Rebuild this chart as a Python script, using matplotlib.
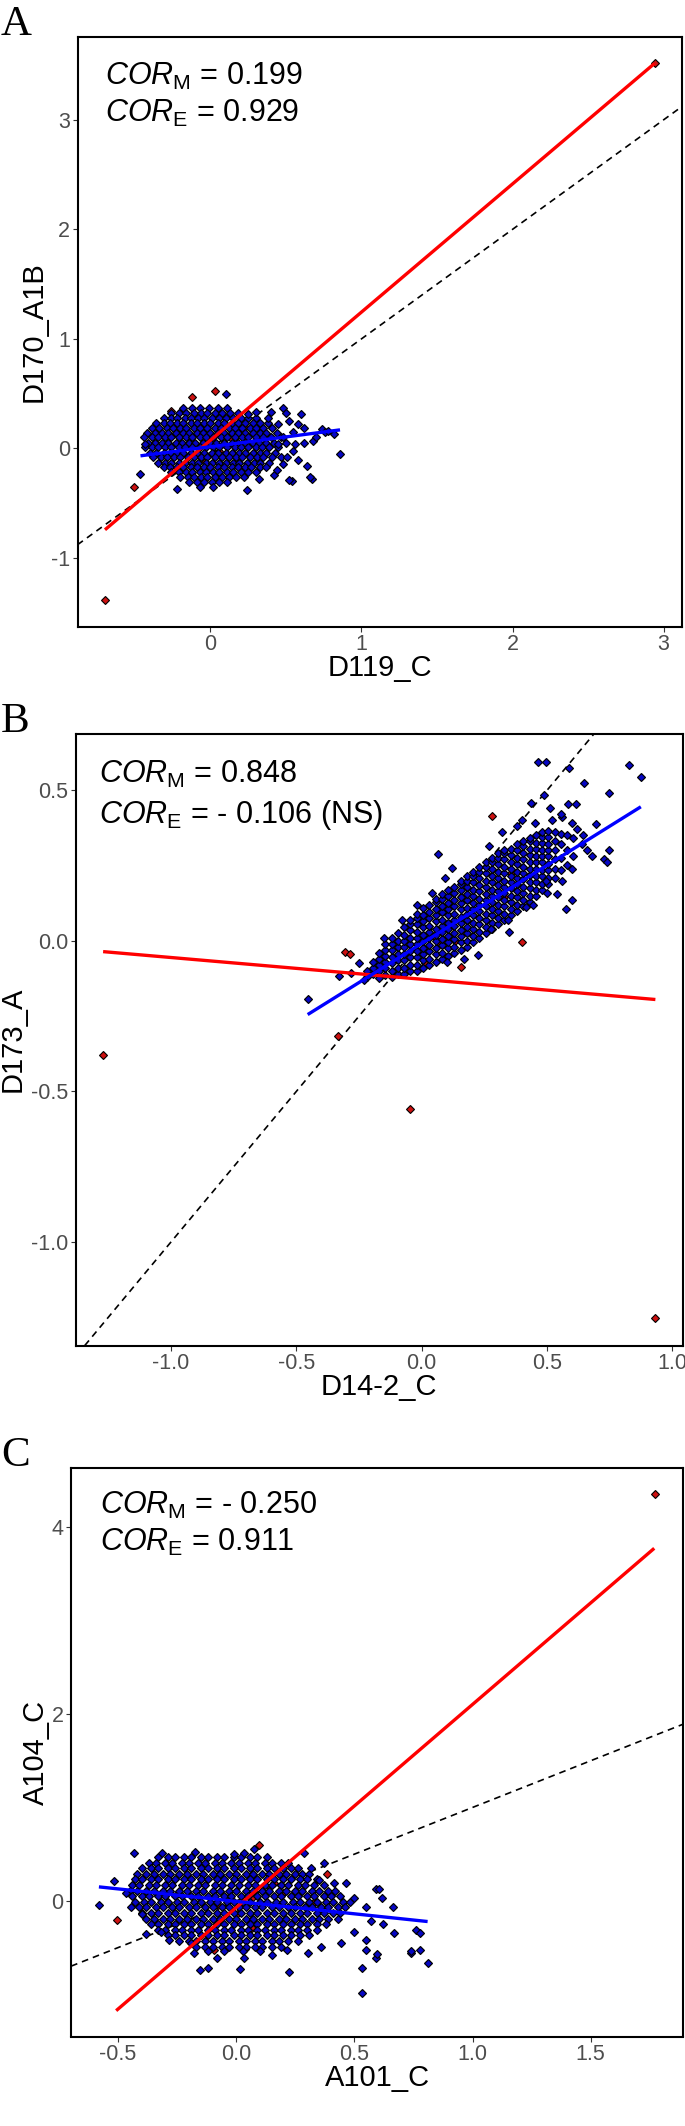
import matplotlib
matplotlib.use('Agg')
import matplotlib.pyplot as plt

plt.rcParams['font.family'] = ['Liberation Sans', 'DejaVu Sans']
plt.rcParams['mathtext.fontset'] = 'custom'
plt.rcParams['mathtext.rm'] = 'Liberation Sans'
plt.rcParams['mathtext.it'] = 'Liberation Sans:italic'
plt.rcParams['mathtext.bf'] = 'Liberation Sans:bold'

# ---------------- Panel A ----------------
A_letter = 'A'
A_xlabel = 'D119_C'
A_ylabel = 'D170_A1B'
A_xticks = [0, 1, 2, 3]
A_xticklabels = ['0', '1', '2', '3']
A_yticks = [-1, 0, 1, 2, 3]
A_yticklabels = ['-1', '0', '1', '2', '3']
A_text = [r'$\mathit{COR}_{\mathrm{M}}$ = 0.199', r'$\mathit{COR}_{\mathrm{E}}$ = 0.929']
A_red = [(2.94, 3.515), (-0.698, -1.386), (0.028, 0.527), (-0.119, 0.472), (-0.258, 0.344),
         (-0.503, -0.354), (0.05, -0.23), (-0.09, 0.283), (0.229, 0.191), (0.173, 0.115),
         (0.144, 0.085), (0.021, -0.038), (0.055, -0.028), (-0.034, -0.12)]
A_blue_rows = [
    (0.37, [-0.18, -0.12, -0.07, -0.01, 0.05, 0.11]),
    (0.32, [-0.26, -0.21, -0.16, -0.11, -0.06, -0.02, 0.03, 0.08, 0.13, 0.18]),
    (0.28, [-0.31, -0.26, -0.22, -0.17, -0.13, -0.08, -0.04, 0.01, 0.06, 0.10, 0.15, 0.20, 0.25, 0.30]),
    (0.23, [-0.36, -0.31, -0.27, -0.22, -0.18, -0.13, -0.09, -0.04, 0.00, 0.05, 0.09, 0.14, 0.18, 0.23, 0.28, 0.33, 0.38]),
    (0.19, [-0.39, -0.34, -0.29, -0.25, -0.20, -0.16, -0.11, -0.07, -0.02, 0.03, 0.07, 0.12, 0.16, 0.21, 0.26, 0.30, 0.35, 0.41]),
    (0.14, [-0.42, -0.37, -0.32, -0.28, -0.23, -0.18, -0.14, -0.09, -0.05, 0.00, 0.05, 0.09, 0.14, 0.18, 0.23, 0.28, 0.33, 0.37, 0.44]),
    (0.10, [-0.44, -0.39, -0.35, -0.30, -0.26, -0.21, -0.16, -0.12, -0.07, -0.03, 0.02, 0.07, 0.11, 0.16, 0.21, 0.25, 0.30, 0.35, 0.40, 0.47]),
    (0.05, [-0.41, -0.37, -0.32, -0.28, -0.23, -0.19, -0.14, -0.10, -0.05, 0.00, 0.04, 0.09, 0.14, 0.18, 0.23, 0.28, 0.32, 0.37, 0.42, 0.50]),
    (0.01, [-0.43, -0.39, -0.35, -0.30, -0.26, -0.21, -0.17, -0.12, -0.07, -0.03, 0.02, 0.06, 0.11, 0.16, 0.20, 0.25, 0.30, 0.34, 0.39, 0.45]),
    (-0.04, [-0.40, -0.36, -0.31, -0.27, -0.22, -0.18, -0.13, -0.09, -0.04, 0.01, 0.05, 0.10, 0.14, 0.19, 0.23, 0.28, 0.33, 0.37, 0.43]),
    (-0.08, [-0.38, -0.33, -0.29, -0.24, -0.20, -0.15, -0.11, -0.06, -0.02, 0.03, 0.08, 0.12, 0.17, 0.21, 0.26, 0.31, 0.35, 0.41, 0.47]),
    (-0.13, [-0.35, -0.30, -0.26, -0.21, -0.17, -0.12, -0.08, -0.03, 0.01, 0.06, 0.10, 0.15, 0.19, 0.24, 0.29, 0.33, 0.39]),
    (-0.17, [-0.31, -0.27, -0.22, -0.18, -0.13, -0.09, -0.04, 0.00, 0.05, 0.09, 0.14, 0.18, 0.23, 0.27, 0.33, 0.37]),
    (-0.22, [-0.26, -0.21, -0.16, -0.12, -0.07, -0.03, 0.02, 0.06, 0.11, 0.15, 0.20, 0.25, 0.30]),
    (-0.26, [-0.20, -0.15, -0.11, -0.06, -0.02, 0.03, 0.08, 0.12, 0.17, 0.22]),
    (-0.31, [-0.14, -0.09, -0.04, 0.01, 0.06, 0.11]),
    (-0.35, [-0.07, 0.02]),
]
A_blue_extra = [(0.10, 0.50), (-0.463, -0.23), (0.858, -0.05), (0.74, 0.18), (0.82, 0.13),
                (0.48, 0.37), (0.50, 0.32), (0.60, 0.31), (0.42, -0.24), (0.32, -0.28),
                (0.54, -0.30), (0.67, -0.28), (-0.22, -0.37), (0.24, -0.38), (0.62, 0.05),
                (0.68, 0.07), (0.56, 0.04), (0.51, -0.08), (0.58, -0.11), (0.48, -0.14),
                (0.64, -0.16), (0.48, 0.10), (0.55, 0.15), (0.62, 0.19), (0.52, 0.25),
                (-0.43, 0.04), (0.66, -0.26), (0.52, -0.29), (0.76, 0.15), (0.70, 0.10),
                (0.45, 0.22), (0.44, -0.20), (0.30, 0.33), (0.25, 0.31), (0.38, 0.28),
                (0.55, -0.02), (0.45, 0.04), (0.78, 0.16), (0.40, 0.33), (0.58, 0.22)]
A_red_fit_x = [-0.698, 2.94]
A_red_fit_y = [-0.743, 3.515]
A_blue_fit_x = [-0.463, 0.858]
A_blue_fit_y = [-0.068, 0.169]

# ---------------- Panel B ----------------
B_letter = 'B'
B_xlabel = 'D14-2_C'
B_ylabel = 'D173_A'
B_xticks = [-1.0, -0.5, 0.0, 0.5, 1.0]
B_xticklabels = ['-1.0', '-0.5', '0.0', '0.5', '1.0']
B_yticks = [-1.0, -0.5, 0.0, 0.5]
B_yticklabels = ['-1.0', '-0.5', '0.0', '0.5']
B_text = [r'$\mathit{COR}_{\mathrm{M}}$ = 0.848', r'$\mathit{COR}_{\mathrm{E}}$ = - 0.106 (NS)']
B_red = [(-1.271, -0.38), (-0.045, -0.56), (0.932, -1.252), (-0.334, -0.317), (0.28, 0.415),
         (-0.306, -0.036), (-0.288, -0.044), (0.399, -0.004), (0.157, -0.087), (0.049, 0.017),
         (0.066, -0.004), (0.131, -0.001), (0.014, -0.073), (0.329, 0.146), (0.355, 0.226)]
B_blue_cols = [
    (-0.22, [-0.12, -0.10]),
    (-0.195, [-0.11, -0.09, -0.07]),
    (-0.17, [-0.125, -0.10, -0.08, -0.06, -0.04]),
    (-0.145, [-0.115, -0.09, -0.07, -0.05, -0.03, -0.01]),
    (-0.12, [-0.12, -0.10, -0.075, -0.055, -0.03, -0.01, 0.01]),
    (-0.095, [-0.11, -0.09, -0.065, -0.045, -0.02, 0.00, 0.025]),
    (-0.07, [-0.11, -0.09, -0.065, -0.045, -0.02, 0.00, 0.02, 0.045]),
    (-0.045, [-0.10, -0.08, -0.055, -0.035, -0.01, 0.01, 0.035, 0.055, 0.07]),
    (-0.02, [-0.10, -0.08, -0.055, -0.035, -0.01, 0.01, 0.03, 0.055, 0.075, 0.09]),
    (0.005, [-0.09, -0.065, -0.045, -0.025, 0.00, 0.02, 0.045, 0.065, 0.085, 0.11]),
    (0.03, [-0.08, -0.06, -0.035, -0.015, 0.01, 0.03, 0.05, 0.075, 0.095, 0.12]),
    (0.055, [-0.07, -0.045, -0.025, 0.00, 0.02, 0.04, 0.065, 0.085, 0.105, 0.13, 0.14]),
    (0.08, [-0.06, -0.04, -0.015, 0.005, 0.03, 0.05, 0.07, 0.095, 0.115, 0.14, 0.155]),
    (0.105, [-0.05, -0.025, -0.005, 0.015, 0.04, 0.06, 0.085, 0.105, 0.125, 0.15, 0.17]),
    (0.13, [-0.04, -0.02, 0.005, 0.025, 0.05, 0.07, 0.09, 0.115, 0.135, 0.16, 0.18]),
    (0.155, [-0.03, -0.005, 0.015, 0.035, 0.06, 0.08, 0.105, 0.125, 0.145, 0.17, 0.19, 0.20]),
    (0.18, [-0.02, 0.00, 0.025, 0.045, 0.07, 0.09, 0.11, 0.135, 0.155, 0.18, 0.20, 0.215]),
    (0.205, [-0.005, 0.015, 0.04, 0.06, 0.085, 0.105, 0.125, 0.15, 0.17, 0.195, 0.215, 0.23]),
    (0.23, [0.01, 0.03, 0.055, 0.075, 0.10, 0.12, 0.14, 0.165, 0.185, 0.21, 0.23, 0.245]),
    (0.255, [0.025, 0.045, 0.07, 0.09, 0.115, 0.135, 0.155, 0.18, 0.20, 0.225, 0.245, 0.26]),
    (0.28, [0.04, 0.06, 0.085, 0.105, 0.13, 0.15, 0.17, 0.195, 0.215, 0.24, 0.26, 0.275]),
    (0.305, [0.055, 0.075, 0.10, 0.12, 0.145, 0.165, 0.185, 0.21, 0.23, 0.255, 0.275, 0.29]),
    (0.33, [0.07, 0.09, 0.115, 0.135, 0.16, 0.18, 0.20, 0.225, 0.245, 0.27, 0.29, 0.30]),
    (0.355, [0.085, 0.105, 0.13, 0.15, 0.175, 0.195, 0.215, 0.24, 0.26, 0.285, 0.305]),
    (0.38, [0.10, 0.12, 0.145, 0.165, 0.19, 0.21, 0.23, 0.255, 0.275, 0.30, 0.32]),
    (0.405, [0.115, 0.135, 0.16, 0.18, 0.205, 0.225, 0.245, 0.27, 0.29, 0.315, 0.33]),
    (0.43, [0.13, 0.15, 0.175, 0.195, 0.22, 0.24, 0.26, 0.285, 0.305, 0.33, 0.34]),
    (0.455, [0.15, 0.17, 0.195, 0.215, 0.24, 0.26, 0.28, 0.305, 0.325, 0.35]),
    (0.48, [0.17, 0.19, 0.215, 0.235, 0.26, 0.28, 0.30, 0.325, 0.345, 0.36]),
    (0.505, [0.19, 0.21, 0.235, 0.255, 0.28, 0.30, 0.32, 0.345, 0.365]),
    (0.53, [0.21, 0.24, 0.27, 0.30, 0.33, 0.36]),
    (0.555, [0.235, 0.275, 0.32, 0.355]),
    (0.58, [0.25, 0.30, 0.35]),
    (0.605, [0.28, 0.34]),
]
B_blue_extra = [(-0.455, -0.194), (0.465, 0.595), (0.497, 0.595), (0.586, 0.575), (0.825, 0.584),
                (0.874, 0.544), (0.649, 0.523), (0.748, 0.49), (0.486, 0.483), (0.582, 0.454),
                (0.614, 0.454), (0.434, 0.459), (0.063, 0.287), (0.748, 0.301), (0.727, 0.272),
                (0.74, 0.262), (0.575, 0.106), (0.60, 0.134), (0.538, 0.156), (0.442, 0.118),
                (-0.329, -0.118), (-0.283, -0.106), (0.643, 0.352), (0.696, 0.389), (0.093, 0.207),
                (0.04, 0.16), (0.119, 0.243), (0.267, 0.316), (0.32, 0.36), (0.381, 0.381),
                (0.416, 0.112), (0.495, 0.20), (0.346, 0.068), (0.276, 0.039), (0.224, -0.048),
                (0.40, 0.40), (0.45, 0.39), (0.52, 0.40), (0.56, 0.41), (0.60, 0.39),
                (0.62, 0.37), (0.64, 0.32), (0.60, 0.24), (0.56, 0.20), (0.50, 0.16),
                (-0.25, -0.075), (-0.23, -0.13), (-0.15, 0.01), (-0.08, 0.07), (-0.02, 0.12),
                (0.35, 0.03), (0.17, -0.06), (0.10, -0.07), (0.66, 0.30), (0.68, 0.28),
                (0.555, 0.42), (0.51, 0.44)]
B_red_fit_x = [-1.271, 0.932]
B_red_fit_y = [-0.036, -0.195]
B_blue_fit_x = [-0.455, 0.874]
B_blue_fit_y = [-0.245, 0.445]

# ---------------- Panel C ----------------
C_letter = 'C'
C_xlabel = 'A101_C'
C_ylabel = 'A104_C'
C_xticks = [-0.5, 0.0, 0.5, 1.0, 1.5]
C_xticklabels = ['-0.5', '0.0', '0.5', '1.0', '1.5']
C_yticks = [0, 2, 4]
C_yticklabels = ['0', '2', '4']
C_text = [r'$\mathit{COR}_{\mathrm{M}}$ = - 0.250', r'$\mathit{COR}_{\mathrm{E}}$ = 0.911']
C_red = [(1.773, 4.357), (-0.506, -0.20), (0.097, 0.60), (0.384, 0.29), (-0.094, -0.53),
         (0.038, -0.52), (-0.027, 0.052), (-0.077, -0.046), (0.005, -0.14), (0.066, 0.034),
         (0.066, -0.29), (0.158, 0.192), (0.189, 0.167), (0.196, 0.087), (0.326, -0.018)]
C_blue_rows = [
    (0.47, [-0.33, -0.29, -0.26, -0.22, -0.19, -0.15, -0.12, -0.08, -0.05, -0.01, 0.02, 0.06, 0.09, 0.13]),
    (0.41, [-0.37, -0.34, -0.30, -0.27, -0.23, -0.20, -0.16, -0.13, -0.09, -0.06, -0.02, 0.01, 0.05, 0.08, 0.12, 0.15, 0.19, 0.22]),
    (0.35, [-0.40, -0.36, -0.33, -0.29, -0.26, -0.22, -0.19, -0.15, -0.12, -0.08, -0.05, -0.01, 0.02, 0.06, 0.09, 0.13, 0.16, 0.20, 0.23, 0.26]),
    (0.29, [-0.42, -0.38, -0.35, -0.31, -0.28, -0.24, -0.21, -0.17, -0.14, -0.10, -0.07, -0.03, 0.00, 0.04, 0.07, 0.11, 0.14, 0.18, 0.21, 0.25, 0.28, 0.31]),
    (0.23, [-0.43, -0.40, -0.36, -0.33, -0.29, -0.26, -0.22, -0.19, -0.15, -0.12, -0.08, -0.05, -0.01, 0.02, 0.06, 0.09, 0.13, 0.16, 0.20, 0.23, 0.27, 0.30, 0.34]),
    (0.17, [-0.44, -0.41, -0.37, -0.34, -0.30, -0.27, -0.23, -0.20, -0.16, -0.13, -0.09, -0.06, -0.02, 0.01, 0.05, 0.08, 0.12, 0.15, 0.19, 0.22, 0.26, 0.29, 0.33, 0.37]),
    (0.11, [-0.45, -0.42, -0.38, -0.35, -0.31, -0.28, -0.24, -0.21, -0.17, -0.14, -0.10, -0.07, -0.03, 0.00, 0.04, 0.07, 0.11, 0.14, 0.18, 0.21, 0.25, 0.28, 0.32, 0.35, 0.39, 0.42]),
    (0.05, [-0.44, -0.40, -0.37, -0.33, -0.30, -0.26, -0.23, -0.19, -0.16, -0.12, -0.09, -0.05, -0.02, 0.02, 0.05, 0.09, 0.12, 0.16, 0.19, 0.23, 0.26, 0.30, 0.33, 0.37, 0.40, 0.44]),
    (-0.01, [-0.43, -0.39, -0.36, -0.32, -0.29, -0.25, -0.22, -0.18, -0.15, -0.11, -0.08, -0.04, -0.01, 0.03, 0.06, 0.10, 0.13, 0.17, 0.20, 0.24, 0.27, 0.31, 0.34, 0.38, 0.41, 0.45, 0.48]),
    (-0.07, [-0.41, -0.38, -0.34, -0.31, -0.27, -0.24, -0.20, -0.17, -0.13, -0.10, -0.06, -0.03, 0.01, 0.04, 0.08, 0.11, 0.15, 0.18, 0.22, 0.25, 0.29, 0.32, 0.36, 0.39, 0.43, 0.46]),
    (-0.13, [-0.40, -0.36, -0.33, -0.29, -0.26, -0.22, -0.19, -0.15, -0.12, -0.08, -0.05, -0.01, 0.02, 0.06, 0.09, 0.13, 0.16, 0.20, 0.23, 0.27, 0.30, 0.34, 0.37, 0.41, 0.44]),
    (-0.19, [-0.38, -0.35, -0.31, -0.28, -0.24, -0.21, -0.17, -0.14, -0.10, -0.07, -0.03, 0.00, 0.04, 0.07, 0.11, 0.14, 0.18, 0.21, 0.25, 0.28, 0.32, 0.35, 0.39, 0.43]),
    (-0.25, [-0.36, -0.33, -0.29, -0.26, -0.22, -0.19, -0.15, -0.12, -0.08, -0.05, -0.01, 0.02, 0.06, 0.09, 0.13, 0.16, 0.20, 0.23, 0.27, 0.30, 0.34, 0.38]),
    (-0.31, [-0.33, -0.30, -0.26, -0.23, -0.19, -0.16, -0.12, -0.09, -0.05, -0.02, 0.02, 0.05, 0.09, 0.12, 0.16, 0.19, 0.23, 0.26, 0.30, 0.34]),
    (-0.37, [-0.29, -0.26, -0.22, -0.19, -0.15, -0.12, -0.08, -0.05, -0.01, 0.02, 0.06, 0.09, 0.13, 0.16, 0.20, 0.23, 0.27, 0.31]),
    (-0.43, [-0.24, -0.20, -0.17, -0.13, -0.10, -0.06, -0.03, 0.01, 0.04, 0.08, 0.11, 0.15, 0.18, 0.22, 0.26]),
    (-0.49, [-0.17, -0.13, -0.10, -0.06, -0.03, 0.01, 0.04, 0.08, 0.11, 0.15, 0.19]),
    (-0.54, [-0.12, -0.05, 0.03, 0.10]),
]
C_blue_extra = [(-0.581, -0.046), (-0.517, 0.216), (-0.433, 0.514), (0.288, 0.514), (0.372, 0.41),
                (0.591, 0.129), (0.605, 0.129), (0.619, 0.027), (0.662, -0.07), (0.669, -0.344),
                (0.761, -0.309), (0.779, -0.344), (0.74, -0.56), (0.779, -0.526), (0.81, -0.666),
                (0.549, -0.53), (0.591, -0.613), (-0.083, -0.613), (0.033, -0.613), (-0.178, -0.554),
                (-0.315, 0.514), (-0.174, 0.525), (-0.009, 0.497), (0.033, 0.514), (0.076, 0.56),
                (0.316, 0.35), (0.351, 0.227), (0.415, 0.192), (0.464, 0.192), (0.499, 0.034),
                (0.549, -0.07), (0.57, -0.21), (0.62, -0.245), (0.499, -0.333), (0.549, -0.42),
                (0.443, -0.456), (0.358, -0.49), (0.302, -0.56), (0.217, -0.526), (0.153, -0.578),
                (-0.447, -0.07), (-0.468, 0.087), (-0.397, -0.14), (-0.383, -0.35), (-0.32, -0.333),
                (-0.284, -0.42), (-0.193, -0.456), (0.531, -0.987), (0.223, -0.761), (0.015, -0.729),
                (-0.153, -0.743), (-0.121, -0.714), (0.531, -0.719), (0.739, -0.54), (0.596, -0.573)]
C_red_fit_x = [-0.508, 1.769]
C_red_fit_y = [-1.175, 3.774]
C_blue_fit_x = [-0.581, 0.81]
C_blue_fit_y = [0.150, -0.221]

# ---------------- layout (pixels of a 685 x 2126 canvas) ----------------
W, H = 685.0, 2126.0
BLUE_FILL = '#0606c4'
RED_FILL = '#cc1111'
TICK_COL = '#4d4d4d'


def expand_rows(rows):
    return [(x, y) for y, xs in rows for x in xs]


def expand_cols(cols):
    return [(x, y) for x, ys in cols for y in ys]


def panel(box, letter, red, blue, red_fit, blue_fit, xticks, xtl, yticks, ytl,
          xlabel, ylabel, texts, text_x, ylab_px):
    left, right, top, bottom = box
    ax = fig.add_axes([left / W, 1 - bottom / H, (right - left) / W, (bottom - top) / H])
    allx = [p[0] for p in red + blue] + list(red_fit[0]) + list(blue_fit[0])
    ally = [p[1] for p in red + blue] + list(red_fit[1]) + list(blue_fit[1])
    xr = max(allx) - min(allx)
    yr = max(ally) - min(ally)
    ax.set_xlim(min(allx) - 0.05 * xr, max(allx) + 0.05 * xr)
    ax.set_ylim(min(ally) - 0.05 * yr, max(ally) + 0.05 * yr)

    ax.axline((0, 0), slope=1, color='black', lw=1.2, dashes=(4, 3), zorder=1)
    ax.plot([p[0] for p in red], [p[1] for p in red], ls='none', marker='D', ms=4.0,
            mfc=RED_FILL, mec='black', mew=0.8, zorder=2)
    ax.plot([p[0] for p in blue], [p[1] for p in blue], ls='none', marker='D', ms=4.0,
            mfc=BLUE_FILL, mec='black', mew=0.85, zorder=3)
    ax.plot(red_fit[0], red_fit[1], color='#ff0000', lw=2.4, solid_capstyle='butt', zorder=4)
    ax.plot(blue_fit[0], blue_fit[1], color='#0000ff', lw=2.4, solid_capstyle='butt', zorder=5)

    ax.set_xticks(xticks)
    ax.set_xticklabels(xtl)
    ax.set_yticks(yticks)
    ax.set_yticklabels(ytl)
    ax.tick_params(axis='both', length=3.3, width=0.8, color='#333333', pad=2.0,
                   labelsize=15.5, labelcolor=TICK_COL)
    for sp in ax.spines.values():
        sp.set_linewidth(1.5)
        sp.set_color('black')

    hpx = bottom - top
    wpx = right - left
    ax.set_xlabel(xlabel, fontsize=21, color='black')
    ax.xaxis.set_label_coords(0.5, -49.0 / hpx)
    ax.xaxis.label.set_va('baseline')
    ax.set_ylabel(ylabel, fontsize=21, color='black')
    ax.yaxis.set_label_coords((ylab_px - left) / wpx, 0.5)
    ax.yaxis.label.set_va('center')

    ax.text(text_x, 1 - 0.081, texts[0], transform=ax.transAxes, fontsize=22,
            ha='left', va='baseline', color='black')
    ax.text(text_x, 1 - 0.145, texts[1], transform=ax.transAxes, fontsize=22,
            ha='left', va='baseline', color='black')

    fig.text(1.0 / W, 1 - (top - 1.5) / H, letter, fontsize=31, family='Liberation Serif',
             ha='left', va='baseline', color='black')
    return ax


fig = plt.figure(figsize=(6.85, 21.26), dpi=100)

panel((77.5, 682.0, 36.6, 627.0), A_letter, A_red, expand_rows(A_blue_rows) + A_blue_extra,
      (A_red_fit_x, A_red_fit_y), (A_blue_fit_x, A_blue_fit_y),
      A_xticks, A_xticklabels, A_yticks, A_yticklabels, A_xlabel, A_ylabel, A_text, 0.045, 34.0)

panel((75.5, 683.0, 733.8, 1345.6), B_letter, B_red, expand_cols(B_blue_cols) + B_blue_extra,
      (B_red_fit_x, B_red_fit_y), (B_blue_fit_x, B_blue_fit_y),
      B_xticks, B_xticklabels, B_yticks, B_yticklabels, B_xlabel, B_ylabel, B_text, 0.038, 13.0)

panel((71.1, 683.0, 1468.0, 2036.5), C_letter, C_red, expand_rows(C_blue_rows) + C_blue_extra,
      (C_red_fit_x, C_red_fit_y), (C_blue_fit_x, C_blue_fit_y),
      C_xticks, C_xticklabels, C_yticks, C_yticklabels, C_xlabel, C_ylabel, C_text, 0.047, 36.0)

fig.savefig('out.png', dpi=100, facecolor='white')
